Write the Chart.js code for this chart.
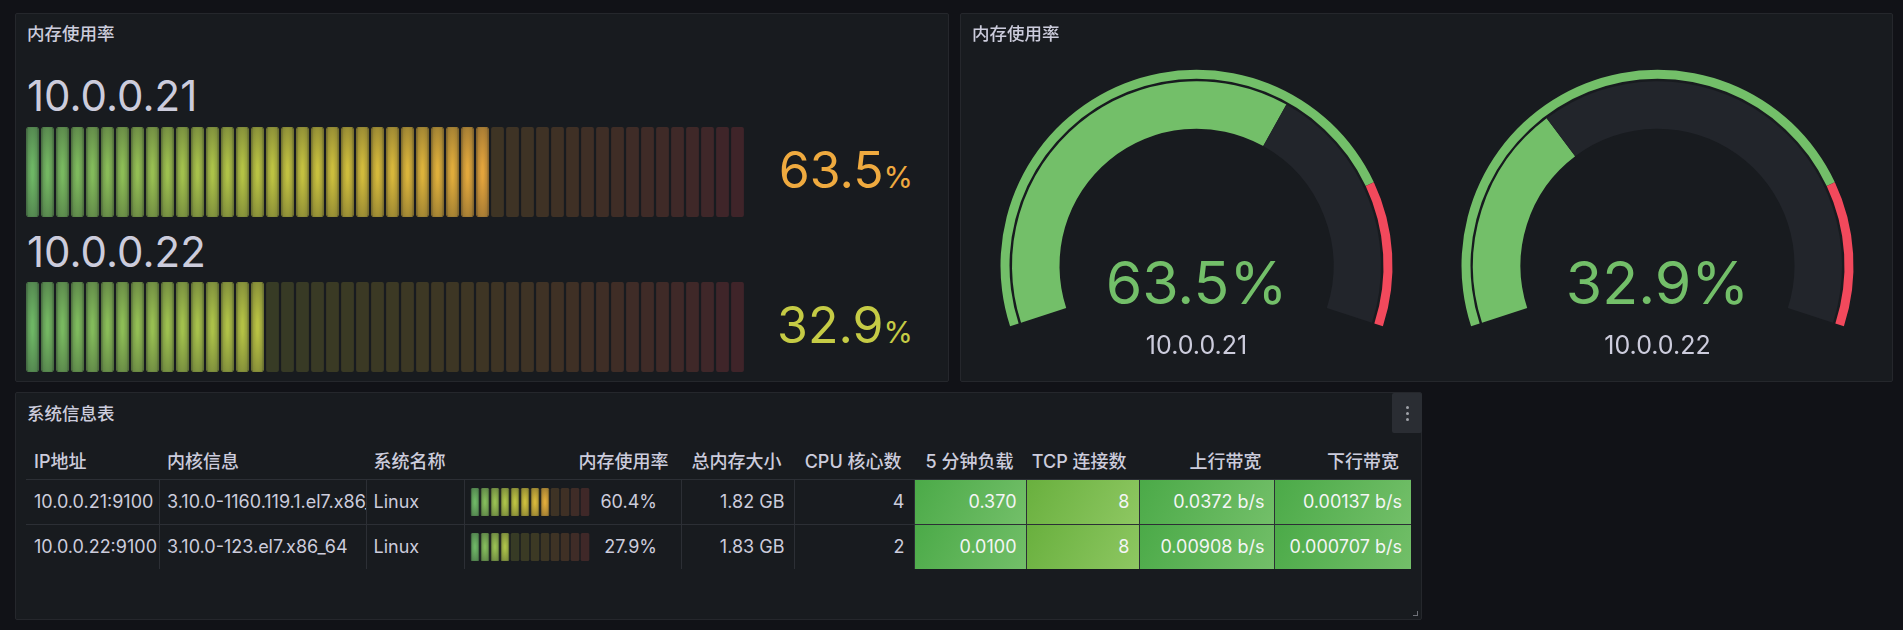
<!DOCTYPE html>
<html>
<head>
<meta charset="utf-8">
<script src="https://cdn.jsdelivr.net/npm/chart.js@4.4.1/dist/chart.umd.min.js"></script>
<style>
html, body { margin: 0; padding: 0; background: #111217; width: 1903px; height: 630px; overflow: hidden; }
body { position: relative; font-family: Inter, "Noto Sans CJK SC", sans-serif; color: #ccccdc; }
.panel { position: absolute; background: #181b1f; border: 1px solid #25272c; border-radius: 2px; box-sizing: border-box; }
.t { position: absolute; white-space: nowrap; }
.box { position: absolute; }
canvas { position: absolute; }
</style>
</head>
<body>

<div class="panel" style="left:15px;top:13px;width:934px;height:369px"></div>
<div class="panel" style="left:960px;top:13px;width:933px;height:369px"></div>
<div class="panel" style="left:15px;top:392px;width:1407px;height:228px"></div>

<canvas id="lcd1" width="720" height="90" style="left:25px;top:127px"></canvas>
<canvas id="lcd2" width="720" height="90" style="left:25px;top:282px"></canvas>
<canvas id="gauge1" width="461" height="316" style="left:966px;top:40px"></canvas>
<canvas id="gauge2" width="461" height="316" style="left:1427px;top:40px"></canvas>
<canvas id="mini1" width="120" height="28" style="left:470px;top:488px"></canvas>
<canvas id="mini2" width="120" height="28" style="left:470px;top:533px"></canvas>

<script>
// --- DATA ---
const hosts = ['10.0.0.21', '10.0.0.22'];
const memUsage = [63.5, 32.9];            // 内存使用率 %
const gaugeMin = 0;
const gaugeMax = 100;
const gaugeRedFrom = 80;                   // threshold: red above 80

const tableHeaders = ['IP地址', '内核信息', '系统名称', '内存使用率', '总内存大小', 'CPU 核心数', '5 分钟负载', 'TCP 连接数', '上行带宽', '下行带宽'];
const tableIp = ['10.0.0.21:9100', '10.0.0.22:9100'];
const tableKernel = ['3.10.0-1160.119.1.el7.x86_64', '3.10.0-123.el7.x86_64'];
const tableOs = ['Linux', 'Linux'];
const tableMem = [60.4, 27.9];
const tableMemTotal = ['1.82 GB', '1.83 GB'];
const tableCpu = ['4', '2'];
const tableLoad5 = ['0.370', '0.0100'];
const tableTcp = ['8', '8'];
const tableUp = ['0.0372 b/s', '0.00908 b/s'];
const tableDown = ['0.00137 b/s', '0.000707 b/s'];

// --- LAYOUT ---
const colEdges = [26, 159, 365.5, 464, 680.5, 793.5, 913.5, 1025.5, 1138.5, 1273.5, 1411];
const headerBase = 468.5;
const rowTop = [479, 524];
const ROW_H = 45;

// --- COLOURS (continuous green-yellow-red, d3 basis spline) ---
const schemeStops = ['#73BF69', '#FADE2A', '#F2495C'].map(hexRgb);
function hexRgb(h) { return [1, 3, 5].map(i => parseInt(h.substr(i, 2), 16)); }
function basis(t1, v0, v1, v2, v3) {
    const t2 = t1 * t1, t3 = t2 * t1;
    return ((1 - 3 * t1 + 3 * t2 - t3) * v0 + (4 - 6 * t2 + 3 * t3) * v1
        + (1 + 3 * t1 + 3 * t2 - 3 * t3) * v2 + t3 * v3) / 6;
}
function scheme(t) {
    const n = schemeStops.length - 1;
    let i;
    if (t <= 0) { t = 0; i = 0; } else if (t >= 1) { t = 1; i = n - 1; } else i = Math.floor(t * n);
    return [0, 1, 2].map(k => {
        const v1 = schemeStops[i][k], v2 = schemeStops[i + 1][k];
        const v0 = i > 0 ? schemeStops[i - 1][k] : 2 * v1 - v2;
        const v3 = i < n - 1 ? schemeStops[i + 2][k] : 2 * v2 - v1;
        return Math.max(0, Math.min(255, Math.round(basis((t - i / n) * n, v0, v1, v2, v3))));
    });
}
function rgba(c, a) { return `rgba(${c[0]},${c[1]},${c[2]},${a})`; }

// --- LCD bar gauge (one bar per cell) ---
const lcdShade = {
    id: 'lcdShade',
    afterDatasetsDraw(chart, args, opts) {
        const ctx = chart.ctx;
        chart.getDatasetMeta(0).data.forEach((bar, i) => {
            if (!opts.lit[i]) return;
            const w = bar.width, h = bar.base - bar.y;
            ctx.save();
            ctx.beginPath();
            ctx.roundRect(bar.x - w / 2, bar.y, w, h, opts.radius);
            ctx.clip();
            ctx.translate(bar.x, bar.y + h / 2);
            ctx.scale(1, h / w);
            const g = ctx.createRadialGradient(0, 0, 0, 0, 0, w / 2 * 1.414);
            g.addColorStop(0.1, 'rgba(24,27,31,0)');
            g.addColorStop(1, 'rgba(24,27,31,0.42)');
            ctx.fillStyle = g;
            ctx.fillRect(-w / 2, -w / 2, w, w);
            ctx.restore();
        });
    }
};

function lcdGauge(id, value, cellCount, pct, radius) {
    const cells = [...Array(cellCount).keys()];
    const colors = cells.map(i => scheme(i / cellCount));
    const lit = cells.map(i => gaugeMin + (gaugeMax - gaugeMin) / cellCount * i < value);
    new Chart(document.getElementById(id), {
        type: 'bar',
        data: {
            labels: cells,
            datasets: [{
                data: cells.map(() => 1),
                backgroundColor: colors.map((c, i) => lit[i] ? rgba(c, 0.95) : rgba(c, 0.18)),
                borderColor: colors.map((c, i) => lit[i] ? rgba(c, 0.9) : 'rgba(0,0,0,0)'),
                borderWidth: cells.map(i => lit[i] ? 1 : 0),
                borderRadius: radius,
                borderSkipped: false,
                barPercentage: pct,
                categoryPercentage: 1
            }]
        },
        options: {
            responsive: false, animation: false, events: [],
            layout: { padding: 0 },
            plugins: { legend: { display: false }, tooltip: { enabled: false }, lcdShade: { lit: lit, radius: radius } },
            scales: { x: { display: false }, y: { display: false, min: 0, max: 1 } }
        },
        plugins: [lcdShade]
    });
}

// --- Gauge ---
function gauge(id, value) {
    new Chart(document.getElementById(id), {
        type: 'doughnut',
        data: {
            datasets: [
                { data: [gaugeRedFrom - gaugeMin, gaugeMax - gaugeRedFrom], backgroundColor: ['#73BF69', '#F2495C'], weight: 9 },
                { data: [gaugeMax - gaugeMin], backgroundColor: ['rgba(0,0,0,0)'], weight: 2.5 },
                { data: [value - gaugeMin, gaugeMax - value], backgroundColor: ['#73BF69', '#22252b'], weight: 47.5 }
            ]
        },
        options: {
            responsive: false, animation: false, events: [],
            rotation: -108, circumference: 216, cutout: '69.9%', radius: 196,
            elements: { arc: { borderWidth: 0 } },
            plugins: { legend: { display: false }, tooltip: { enabled: false } }
        }
    });
}

// --- text helpers ---
function addText(str, x, baseline, size, opts = {}) {
    const d = document.createElement('div');
    d.className = 't';
    d.innerHTML = str;
    d.style.fontSize = size + 'px';
    d.style.lineHeight = size + 'px';
    d.style.top = (baseline - size * 0.864) + 'px';
    if (opts.align === 'right') d.style.right = (1903 - x) + 'px';
    else if (opts.align === 'center') { d.style.left = x + 'px'; d.style.transform = 'translateX(-50%)'; }
    else d.style.left = x + 'px';
    d.style.color = opts.color || '#ccccdc';
    if (opts.weight) d.style.fontWeight = opts.weight;
    if (opts.width) { d.style.width = opts.width + 'px'; d.style.overflow = 'hidden'; }
    document.body.appendChild(d);
    return d;
}
function addBox(x, y, w, h, style) {
    const d = document.createElement('div');
    d.className = 'box';
    Object.assign(d.style, { left: x + 'px', top: y + 'px', width: w + 'px', height: h + 'px' }, style);
    document.body.appendChild(d);
    return d;
}

// --- PANEL 1: bar gauges ---
addText('内存使用率', 27, 40.5, 17.5, { weight: 500 });
const lcdLabelBase = [111, 267];
const lcdValueBase = [188.5, 343.5];
hosts.forEach((h, i) => {
    addText(h, 27, lcdLabelBase[i], 42);
    const c = scheme(memUsage[i] / 100);
    addText(memUsage[i].toFixed(1) + '<span style="font-size:30px">%</span>', 913, lcdValueBase[i], 50,
        { align: 'right', color: `rgb(${c})` });
    lcdGauge('lcd' + (i + 1), memUsage[i], 48, 0.85, 2);
});

// --- PANEL 2: gauges ---
addText('内存使用率', 972, 40.5, 17.5, { weight: 500 });
const gaugeCx = [1196.5, 1657.5];
hosts.forEach((h, i) => {
    gauge('gauge' + (i + 1), memUsage[i]);
    addText(memUsage[i].toFixed(1) + '%', gaugeCx[i], 303.5, 59, { align: 'center', color: '#73BF69' });
    addText(h, gaugeCx[i], 355, 25, { align: 'center' });
});

// --- PANEL 3: table ---
addText('系统信息表', 27, 420.5, 17.5, { weight: 500 });
addBox(1392, 393, 30, 40, { background: '#2a2d33', borderRadius: '2px' });
[407, 413, 419].forEach(y => addBox(1405.5, y - 1.5, 3, 3, { background: '#9fa1a8', borderRadius: '50%' }));
addBox(1413, 611, 4, 4, { borderRight: '1.5px solid #6e7077', borderBottom: '1.5px solid #6e7077' });

tableHeaders.forEach((h, c) => {
    if (c < 3) addText(h, colEdges[c] + 8, headerBase, 18, { weight: 500 });
    else addText(h, colEdges[c + 1] - 12, headerBase, 18, { weight: 500, align: 'right' });
});

const LINE = '#2c2f35';
addBox(colEdges[0], rowTop[0], colEdges[10] - colEdges[0], 1, { background: LINE });
addBox(colEdges[0], rowTop[1], colEdges[10] - colEdges[0], 1, { background: LINE });
for (let c = 1; c < 10; c++) addBox(colEdges[c], rowTop[0], 1, ROW_H * 2, { background: LINE });

const coloured = {
    6: ['#4baa48', '#73BF69'],
    7: ['#69b03e', '#8ec762'],
    8: ['#4baa48', '#73BF69'],
    9: ['#4baa48', '#73BF69']
};
const rows = tableIp.map((ip, r) => [ip, tableKernel[r], tableOs[r], tableMem[r].toFixed(1) + '%', tableMemTotal[r],
    tableCpu[r], tableLoad5[r], tableTcp[r], tableUp[r], tableDown[r]]);
rows.forEach((row, r) => {
    const base = rowTop[r] + 29.5;
    row.forEach((v, c) => {
        const x0 = colEdges[c], x1 = colEdges[c + 1];
        if (coloured[c]) {
            addBox(x0 + 1, rowTop[r] + 1, x1 - x0 - 1, ROW_H - 1,
                { background: `linear-gradient(120deg, ${coloured[c][0]}, ${coloured[c][1]})` });
            addText(v, x1 - 9, base, 18, { align: 'right', color: '#f4f5f5' });
        } else if (c < 3) {
            addText(v, x0 + 8, base, 18, { width: x1 - x0 - 8 });
        } else if (c === 3) {
            addText(v, x1 - 23.5, base, 18, { align: 'right' });
        } else {
            addText(v, x1 - 9, base, 18, { align: 'right' });
        }
    });
    lcdGauge('mini' + (r + 1), tableMem[r], 12, 0.86, 1.5);
});
</script>
</body>
</html>
